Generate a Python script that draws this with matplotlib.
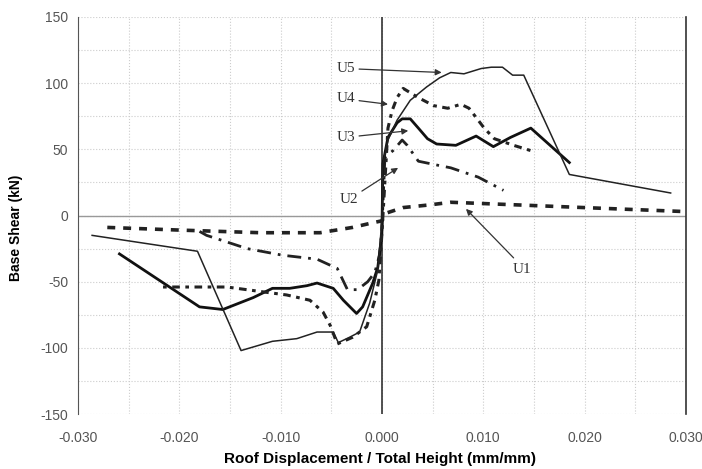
import numpy as np
import matplotlib.pyplot as plt
import matplotlib.transforms as mtransforms
from matplotlib.ticker import MultipleLocator, FuncFormatter

# pushover-like curves
u1_x = [-0.0271, -0.020, -0.012, -0.0061, -0.0029, -0.0012, 0.0, 0.0005, 0.0021, 0.0047, 0.0068, 0.0134, 0.0199, 0.0298]
u1_y = [-9, -11, -13, -13, -9, -6, -4, 2, 6, 8, 10, 8, 6, 3]

u2_x = [-0.0180, -0.0173, -0.0133, -0.0098, -0.0064, -0.0044, -0.0034, -0.0024, -0.0014, -0.0007, -0.0002, 0.0,
        0.0003, 0.0011, 0.0020, 0.0025, 0.0036, 0.0055, 0.0068, 0.0095, 0.0120]
u2_y = [-12, -15, -25, -30, -33, -40, -56, -56, -50, -43, -29, -10,
        44, 49, 57, 53, 41, 38, 36, 29, 19]

u3_x = [-0.0259, -0.0180, -0.0157, -0.0127, -0.0108, -0.0091, -0.0074, -0.0064, -0.0048, -0.0038, -0.0025, -0.0019,
        -0.0009, -0.0004, 0.0, 0.0001, 0.0006, 0.0015, 0.0020, 0.0028, 0.0036, 0.0045, 0.0054, 0.0073, 0.0093,
        0.0110, 0.0127, 0.0147, 0.0185]
u3_y = [-29, -69, -71, -62, -55, -55, -53, -51, -55, -64, -74, -69,
        -51, -39, -14, 39, 59, 70, 73, 73, 66, 58, 54, 53, 60,
        52, 59, 66, 40]

u4_x = [-0.0216, -0.0153, -0.0114, -0.0094, -0.0071, -0.0058, -0.0051, -0.0044, -0.0029, -0.0015, -0.0007, -0.0003,
        0.0, 0.0006, 0.0010, 0.0015, 0.0021, 0.0036, 0.0051, 0.0065, 0.0078, 0.0086, 0.0101, 0.0111, 0.0130, 0.0147]
u4_y = [-54, -54, -58, -60, -64, -73, -83, -97, -92, -84, -64, -49,
        -14, 66, 79, 89, 96, 89, 83, 81, 84, 81, 66, 58, 53, 49]

u5_x = [-0.0286, -0.0182, -0.0139, -0.0108, -0.0084, -0.0064, -0.0048, -0.0043, -0.0032, -0.0022, -0.0012, -0.0004,
        0.0, 0.0001, 0.0006, 0.0015, 0.0028, 0.0044, 0.0057, 0.0068, 0.0081, 0.0098, 0.0108, 0.0119, 0.0129,
        0.0140, 0.0185, 0.0285]
u5_y = [-15, -27, -102, -95, -93, -88, -88, -96, -92, -88, -66, -41,
        -4, 39, 57, 72, 87, 97, 104, 108, 107, 111, 112, 112, 106,
        106, 31, 17]

# label text position, arrow tip
labels = {
    'U5': ((-0.0045, 111), (0.0059, 108)),
    'U4': ((-0.0045, 88), (0.0006, 84)),
    'U3': ((-0.0045, 59), (0.0026, 64)),
    'U2': ((-0.0042, 12), (0.0016, 36)),
}

fig = plt.figure(figsize=(7.02, 4.69), dpi=100)
ax = fig.add_axes([0.111, 0.117, 0.866, 0.847])

ax.plot(u1_x, u1_y, color='#222222', lw=2.6, ls=(0, (2.2, 2.2)), zorder=3)
ax.plot(u2_x, u2_y, color='#222222', lw=2.0, ls=(0, (5, 2.5, 1, 2.5)), zorder=3)
ax.plot(u3_x, u3_y, color='#111111', lw=2.0, zorder=3)
ax.plot(u4_x, u4_y, color='#222222', lw=2.2, ls=(0, (1.2, 1.8, 2.5, 1.8)), zorder=3)
ax.plot(u5_x, u5_y, color='#222222', lw=1.1, zorder=3)

ax.set_axisbelow(True)
ax.axhline(0, color='#999999', lw=1.0, zorder=2)
ax.axvline(0, color='#333333', lw=1.2, zorder=2)

ax.set_xlim(-0.030, 0.030)
ax.set_ylim(-150, 150)
ax.xaxis.set_major_locator(MultipleLocator(0.010))
ax.xaxis.set_minor_locator(MultipleLocator(0.005))
ax.yaxis.set_major_locator(MultipleLocator(50))
ax.yaxis.set_minor_locator(MultipleLocator(25))
ax.xaxis.set_major_formatter(FuncFormatter(lambda v, p: '%.3f' % v))
ax.yaxis.set_major_formatter(FuncFormatter(lambda v, p: '%d' % v))
ax.grid(which='both', color='#cccccc', ls=':', lw=0.8)
ax.tick_params(which='both', length=0, labelcolor='#555555')
ax.tick_params(axis='x', pad=12)
ax.tick_params(axis='y', pad=7)
for lab in ax.get_xticklabels() + ax.get_yticklabels():
    lab.set_family('Liberation Sans')
    lab.set_fontsize(10)

fig.canvas.draw()
xl = ax.get_xticklabels()
shift = mtransforms.ScaledTranslation(-5 / 100, 0, fig.dpi_scale_trans)
xl[-1].set_transform(xl[-1].get_transform() + shift)

for s in ['top', 'bottom']:
    ax.spines[s].set_visible(False)
ax.spines['left'].set_color('#555555')
ax.spines['right'].set_color('#333333')
ax.spines['right'].set_linewidth(1.2)

for name, (txt, tip) in labels.items():
    ax.annotate(name, xy=tip, xytext=txt, ha='left', va='center', family='Liberation Serif', fontsize=11,
                color='#333333',
                arrowprops=dict(arrowstyle='-|>', color='#333333', lw=0.9, mutation_scale=9, shrinkA=1, shrinkB=0))
ax.annotate('', xy=(0.0083, 5), xytext=(0.0130, -32),
            arrowprops=dict(arrowstyle='-|>', color='#333333', lw=0.9, mutation_scale=9, shrinkA=0, shrinkB=0))
ax.text(0.0138, -41, 'U1', ha='center', va='center', family='Liberation Serif', fontsize=11, color='#333333')

ax.set_xlabel('Roof Displacement / Total Height (mm/mm)', fontsize=11, fontweight='bold', family='Liberation Sans')
ax.set_ylabel('Base Shear (kN)', fontsize=10, fontweight='bold', family='Liberation Sans')
ax.xaxis.set_label_coords(0.497, -0.095)
ax.yaxis.set_label_coords(-0.090, 0.47)

fig.savefig('out.png', dpi=100)
